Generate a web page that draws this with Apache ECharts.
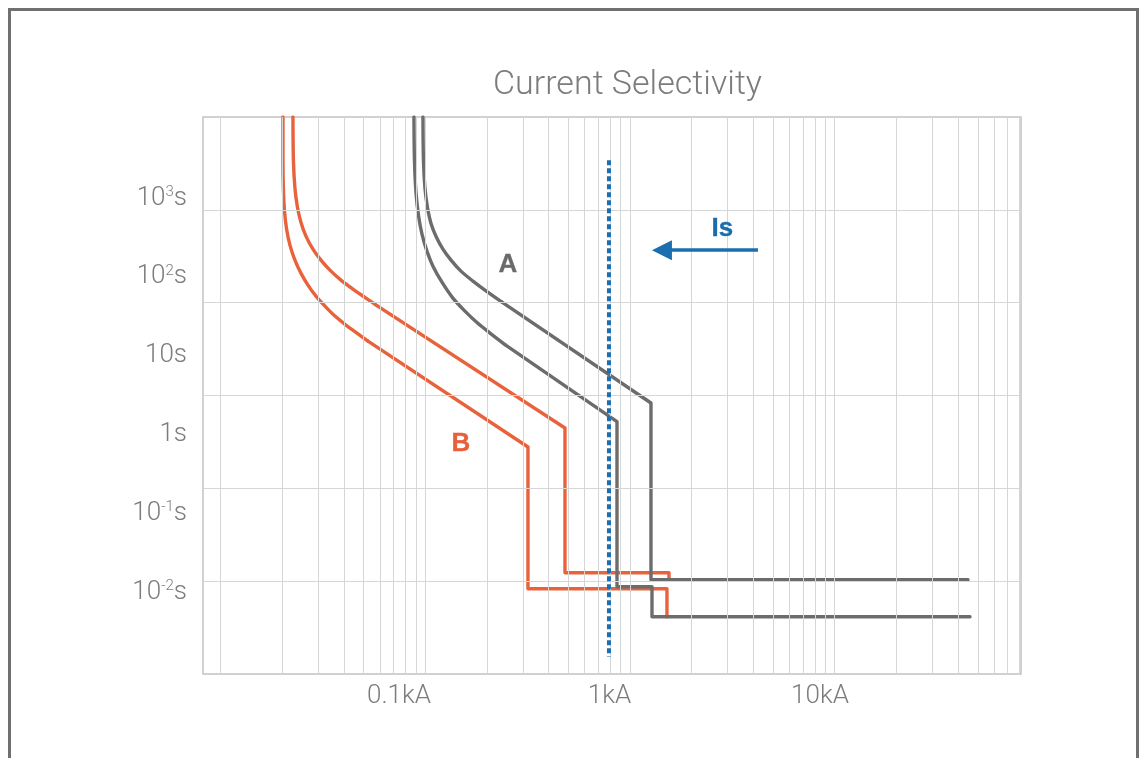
<!DOCTYPE html>
<html><head><meta charset="utf-8">
<script src="https://cdn.jsdelivr.net/npm/echarts@6/dist/echarts.min.js"></script>
<style>html,body{margin:0;padding:0;background:#fff}#c{width:1141px;height:758px}</style>
</head><body><div id="c"></div>
<script>
// ---- data (current in kA, time in s) ----
const xTickLabels = ['0.1kA', '1kA', '10kA'];
const yTickLabels = [['10', '-2'], ['10', '-1'], ['1', ''], ['10', ''], ['10', '2'], ['10', '3']];
const xGridValues = [0.01, 0.02, 0.03, 0.04, 0.05, 0.06, 0.07, 0.08, 0.09,
  0.1, 0.2, 0.3, 0.4, 0.5, 0.6, 0.7, 0.8, 0.9,
  1, 2, 3, 4, 5, 6, 7, 8, 9,
  10, 20, 30, 40, 50, 60, 70, 80];
const yGridValues = [0.1, 1, 10, 100, 1000];

// knee of each inverse-time curve (drawn smooth)
const kneeBLower = [[0.02018, 10000], [0.02018, 3420], [0.02029, 1627], [0.02052, 990.8], [0.02099, 634.3],
  [0.02183, 416.3], [0.02309, 287.1], [0.0247, 208.0], [0.02673, 154.5], [0.02925, 117.6], [0.03236, 91.82],
  [0.03621, 71.67], [0.04098, 57.35], [0.04638, 47.03], [0.05249, 38.58]];
const kneeBUpper = [[0.02258, 10000], [0.0227, 3420], [0.02309, 1709], [0.02375, 1067], [0.0247, 736],
  [0.02613, 520.2], [0.02827, 377.0], [0.03094, 287.1], [0.03423, 224.0], [0.03874, 174.9], [0.04434, 139.9],
  [0.05132, 112.0], [0.05808, 92.97]];
const kneeALower = [[0.08806, 10000], [0.08857, 3420], [0.09007, 1548], [0.09264, 875.3], [0.0964, 546.7],
  [0.1019, 358.8], [0.10905, 247.4], [0.1207, 166.4], [0.1365, 112.0], [0.1563, 81.13], [0.1789, 61.01],
  [0.2071, 47.03], [0.2451, 35.37]];
const kneeAUpper = [[0.09745, 10000], [0.098, 3420], [0.09966, 1709], [0.1025, 1067], [0.1066, 718.0],
  [0.1128, 520.2], [0.122, 377.0], [0.1336, 287.1], [0.1494, 218.6], [0.171, 170.6], [0.2002, 131.5],
  [0.237, 101.4]];

// straight inverse-time slope and instantaneous steps
const stepsBLower = [[0.05249, 38.58], [0.3175, 2.79], [0.3175, 0.08273], [1.516, 0.08273], [1.516, 0.04133]];
const stepsBUpper = [[0.05808, 92.97], [0.4814, 4.47], [0.4814, 0.123], [1.551, 0.123], [1.551, 0.1034]];
const stepsALower = [[0.2451, 35.37], [0.8642, 5.22], [0.8642, 0.08692], [1.281, 0.08692], [1.281, 0.04133], [45.81, 0.04133]];
const stepsAUpper = [[0.237, 101.4], [1.2665, 8.30], [1.2665, 0.1034], [44.8, 0.1034]];

const selectivityLimit = [[0.7896, 3420], [0.7896, 0.01534]];
const arrowFrom = [4.22, 367.8];
const arrowTo = [1.433, 367.8];
const annotations = [
  { name: 'A', value: [0.2535, 253.6], color: '#6a6a6a' },
  { name: 'B', value: [0.1494, 3.006], color: '#e8603a' },
  { name: 'Is', value: [2.83, 618.8], color: '#1a6cab' }
];

// ---- styles ----
const GRAY = '#6c6c6c', ORANGE = '#e8623b', BLUE = '#1b6fae', GRID = '#d6d6d6', TXT = '#7c7c7c';
const FONT = 'Roboto, "Liberation Sans", sans-serif';

const chart = echarts.init(document.getElementById('c'), null, { renderer: 'canvas' });

function lineSeries(data, color, smooth) {
  return {
    type: 'line', xAxisIndex: 0, yAxisIndex: 0, data: data, smooth: smooth ? 0.3 : false,
    symbol: 'none', showSymbol: false, z: 3, silent: true,
    lineStyle: { color: color, width: 3.4, cap: 'round', join: 'round' }
  };
}

const gridMarks = xGridValues.map(v => ({ xAxis: v })).concat(yGridValues.map(v => ({ yAxis: v })));

const option = {
  animation: false,
  backgroundColor: '#fff',
  title: {
    text: 'Current Selectivity', left: 488, top: 63,
    textStyle: { fontFamily: FONT, fontSize: 34, fontWeight: 300, color: TXT }
  },
  graphic: [{
    type: 'rect', shape: { x: 9.5, y: 9.5, width: 1128, height: 800 },
    style: { fill: 'none', stroke: '#707070', lineWidth: 3 }, silent: true, z: 100
  }],
  grid: [
    { left: 203, top: 117, width: 818, height: 557, show: true, borderColor: '#c2c2c2', borderWidth: 1.5, backgroundColor: 'transparent' },
    { left: 203, top: 198, width: 818, height: 394, show: false },
    { left: 399, top: 117, width: 421, height: 557, show: false }
  ],
  xAxis: [
    { type: 'log', gridIndex: 0, min: 0.00821, max: 81.3, axisLine: { show: false }, axisTick: { show: false },
      axisLabel: { show: false }, splitLine: { show: false }, minorSplitLine: { show: false } },
    { type: 'value', gridIndex: 1, min: 0, max: 1, show: false },
    { type: 'value', gridIndex: 2, min: -1, max: 1, interval: 1,
      axisLine: { show: false }, axisTick: { show: false }, splitLine: { show: false },
      axisLabel: { show: true, showMinLabel: true, showMaxLabel: true, margin: 9,
        fontFamily: FONT, fontSize: 26, fontWeight: 300, color: TXT,
        formatter: v => xTickLabels[Math.round(v) + 1] || '' } }
  ],
  yAxis: [
    { type: 'log', gridIndex: 0, min: 0.01, max: 10000, axisLine: { show: false }, axisTick: { show: false },
      axisLabel: { show: false }, splitLine: { show: false } },
    { type: 'value', gridIndex: 1, min: -2, max: 3, interval: 1,
      axisLine: { show: false }, axisTick: { show: false }, splitLine: { show: false },
      axisLabel: { show: true, showMinLabel: true, showMaxLabel: true, margin: 16,
        formatter: v => {
          const t = yTickLabels[Math.round(v) + 2];
          if (!t) return '';
          return t[1] ? '{n|' + t[0] + '}{p|' + t[1] + '}{n|s}' : '{n|' + t[0] + 's}';
        },
        rich: {
          n: { fontFamily: FONT, fontSize: 26, fontWeight: 300, color: TXT, lineHeight: 26 },
          p: { fontFamily: FONT, fontSize: 15, fontWeight: 300, color: TXT, lineHeight: 15, verticalAlign: 'top' }
        } } },
    { type: 'value', gridIndex: 2, min: 0, max: 1, show: false }
  ],
  series: [
    { type: 'line', xAxisIndex: 0, yAxisIndex: 0, data: [[1, 1]], symbol: 'none', silent: true, z: 1,
      lineStyle: { width: 0 },
      markLine: { silent: true, symbol: 'none', label: { show: false }, animation: false,
        lineStyle: { color: GRID, width: 1, type: 'solid' }, data: gridMarks } },
    lineSeries(kneeBLower, ORANGE, true),
    lineSeries(stepsBLower, ORANGE, false),
    lineSeries(kneeBUpper, ORANGE, true),
    lineSeries(stepsBUpper, ORANGE, false),
    lineSeries(kneeALower, GRAY, true),
    lineSeries(stepsALower, GRAY, false),
    lineSeries(kneeAUpper, GRAY, true),
    lineSeries(stepsAUpper, GRAY, false),
    { type: 'line', xAxisIndex: 0, yAxisIndex: 0, data: selectivityLimit, symbol: 'none', silent: true, z: 5,
      lineStyle: { color: BLUE, width: 4, type: [5, 3], cap: 'butt' } },
    { type: 'line', xAxisIndex: 0, yAxisIndex: 0, data: [], symbol: 'none', silent: true, z: 5,
      markLine: { silent: true, symbol: ['none', 'triangle'], symbolSize: 20, label: { show: false }, animation: false,
        lineStyle: { color: BLUE, width: 3.5, type: 'solid' },
        itemStyle: { color: BLUE },
        data: [[{ coord: arrowFrom }, { coord: arrowTo }]] } },
    { type: 'scatter', xAxisIndex: 0, yAxisIndex: 0, symbol: 'circle', symbolSize: 1, silent: true, z: 6,
      itemStyle: { color: 'rgba(0,0,0,0)', opacity: 1 },
      data: annotations.map(a => ({ name: a.name, value: a.value,
        label: { show: true, position: 'inside', formatter: a.name, color: a.color, opacity: 1,
          textBorderColor: a.color, textBorderWidth: 0.3,
          fontFamily: '"Liberation Sans", Arial, sans-serif', fontSize: 26, fontWeight: 'bold' } })) }
  ]
};
chart.setOption(option);
</script></body></html>
